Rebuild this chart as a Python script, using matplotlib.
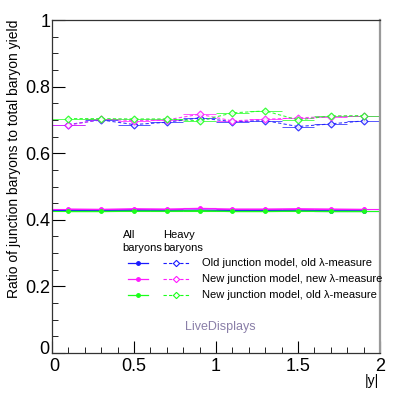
import numpy as np
import matplotlib.pyplot as plt
import matplotlib.transforms as mtransforms
from matplotlib.ticker import MultipleLocator

plt.rcParams['font.family'] = ['Liberation Sans', 'DejaVu Sans']

# |y| bin centres
y_abs = [0.1, 0.3, 0.5, 0.7, 0.9, 1.1, 1.3, 1.5, 1.7, 1.9]

# all baryons
all_old = [0.428, 0.428, 0.429, 0.428, 0.429, 0.428, 0.428, 0.428, 0.427, 0.427]
all_new = [0.432, 0.431, 0.433, 0.432, 0.434, 0.432, 0.432, 0.433, 0.432, 0.431]
all_newold = [0.425, 0.425, 0.426, 0.426, 0.427, 0.425, 0.425, 0.426, 0.425, 0.425]

# heavy baryons
heavy_old = [0.686, 0.700, 0.686, 0.693, 0.706, 0.695, 0.698, 0.680, 0.688, 0.697]
heavy_new = [0.684, 0.702, 0.698, 0.700, 0.717, 0.697, 0.702, 0.706, 0.710, 0.711]
heavy_newold = [0.704, 0.704, 0.703, 0.703, 0.697, 0.721, 0.727, 0.700, 0.712, 0.713]
heavy_err = [0.008, 0.007, 0.008, 0.008, 0.009, 0.008, 0.009, 0.008, 0.008, 0.009]

labels = ['Old junction model, old \u03bb-measure',
          'New junction model, new \u03bb-measure',
          'New junction model, old \u03bb-measure']
colors = ['#1a1aff', '#ff1aff', '#1aff1a']

fig = plt.figure(figsize=(3.95, 4.05), dpi=100)
ax = fig.add_axes([0.1316, 0.1284, 0.8304, 0.8222])

for vals, col in zip([all_old, all_new, all_newold], colors):
    ax.errorbar(y_abs, vals, xerr=0.1, color=col, lw=1.0, marker='o',
                ms=2.5, mec=col, mfc=col, capsize=0, elinewidth=0.8)

for vals, col in zip([heavy_old, heavy_new, heavy_newold], colors):
    ax.errorbar(y_abs, vals, xerr=0.1, yerr=heavy_err, color=col, lw=0.8,
                ls=(0, (3, 2)), marker='D', ms=3.5, mfc='white', mec=col,
                mew=0.9, capsize=0, elinewidth=0.6, alpha=0.85)

ax.set_xlim(0, 2)
ax.set_ylim(0, 1)
ax.xaxis.set_major_locator(MultipleLocator(0.5))
ax.xaxis.set_minor_locator(MultipleLocator(0.1))
ax.yaxis.set_major_locator(MultipleLocator(0.2))
ax.yaxis.set_minor_locator(MultipleLocator(0.05))
ax.tick_params(which='both', direction='in', top=False, right=False,
               labelsize=13, pad=1)
ax.tick_params(axis='x', which='major', pad=3.5)
ax.tick_params(which='major', length=9)
ax.tick_params(which='minor', length=4.5)
ax.set_xticks([0, 0.5, 1, 1.5, 2])
ax.set_xticklabels(['0', '0.5', '1', '1.5', '2'])
ax.set_yticks([0, 0.2, 0.4, 0.6, 0.8, 1])
ax.set_yticklabels(['0', '0.2', '0.4', '0.6', '0.8', '1'])

# nudge the two "0" labels apart at the corner
ylab0 = ax.get_yticklabels()[0]
ylab0.set_transform(ylab0.get_transform() +
                    mtransforms.ScaledTranslation(-1 / 72, 4 / 72, fig.dpi_scale_trans))
xlab0 = ax.get_xticklabels()[0]
xlab0.set_transform(xlab0.get_transform() +
                    mtransforms.ScaledTranslation(1.5 / 72, 0, fig.dpi_scale_trans))

for sp in ['left', 'bottom', 'top']:
    ax.spines[sp].set_color('#333333')
    ax.spines[sp].set_linewidth(0.9)
ax.spines['right'].set_color('#999999')
ax.spines['right'].set_linewidth(1.6)

ax.set_ylabel('Ratio of junction baryons to total baryon yield',
              fontsize=10, loc='top', labelpad=3)
fig.text(0.96, 0.042, '|y|', fontsize=10, ha='right', va='bottom')

# legend drawn by hand in axes coordinates
ax.text(0.215, 0.354, 'All', fontsize=8, va='center', transform=ax.transAxes)
ax.text(0.339, 0.354, 'Heavy', fontsize=8, va='center', transform=ax.transAxes)
ax.text(0.215, 0.315, 'baryons', fontsize=8, va='center', transform=ax.transAxes)
ax.text(0.339, 0.315, 'baryons', fontsize=8, va='center', transform=ax.transAxes)
rows = [0.270, 0.222, 0.174]
for yr, col, lab in zip(rows, colors, labels):
    ax.plot([0.232, 0.293], [yr, yr], color=col, lw=0.9,
            transform=ax.transAxes)
    ax.plot([0.262], [yr], marker='o', ms=2.5, color=col,
            transform=ax.transAxes)
    ax.plot([0.339, 0.418], [yr, yr], color=col, lw=0.8, ls=(0, (3, 2)),
            transform=ax.transAxes)
    ax.plot([0.378], [yr], marker='D', ms=3.2, mfc='white', mec=col,
            mew=0.8, transform=ax.transAxes)
    ax.text(0.456, yr, lab, fontsize=8, va='center', transform=ax.transAxes)

ax.text(0.512, 0.078, 'LiveDisplays', fontsize=9, color='#8a7fa8',
        ha='center', va='center', transform=ax.transAxes)

fig.savefig('out.png', dpi=100)
